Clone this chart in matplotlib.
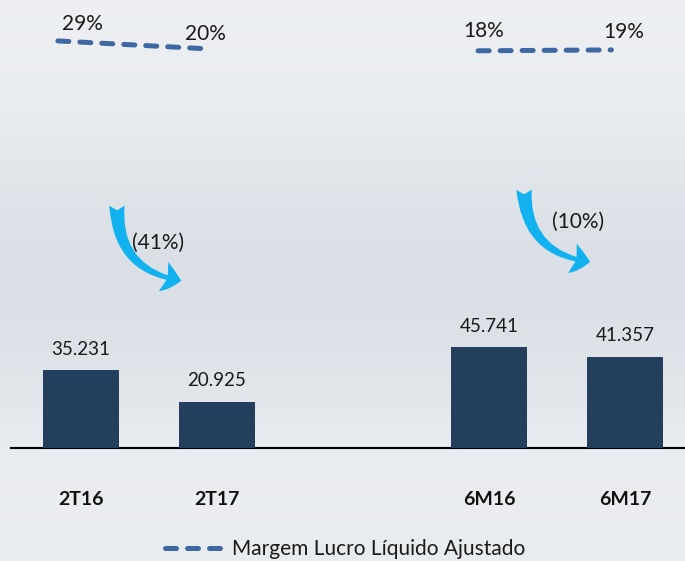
import numpy as np
import matplotlib
matplotlib.use("Agg")
import matplotlib.pyplot as plt
from matplotlib.patches import FancyArrowPatch
from matplotlib.lines import Line2D
import matplotlib.colors as mcolors

# ---- data ----
categories = ["2T16", "2T17", "6M16", "6M17"]
values = [35.231, 20.925, 45.741, 41.357]
value_labels = ["35.231", "20.925", "45.741", "41.357"]
margins = [29, 20, 18, 19]
margin_labels = ["29%", "20%", "18%", "19%"]
changes = ["(41%)", "(10%)"]
legend_label = "Margem Lucro Líquido Ajustado"

# ---- style ----
positions = [0, 1, 3, 4]
BAR_COLOR = "#243f5e"
LINE_COLOR = "#3e68a3"
ARROW_COLOR = "#12b1ef"
FONT = ["Lato", "DejaVu Sans"]
plt.rcParams["font.family"] = FONT

W, H, DPI = 6.85, 5.61, 100
fig = plt.figure(figsize=(W, H), dpi=DPI)

# background gradient (approximating the faded photo)
bg = fig.add_axes([0, 0, 1, 1], zorder=-10)
t = np.linspace(0, 1, 300)
c_top = np.array(mcolors.to_rgb("#eef0f3"))
c_mid = np.array(mcolors.to_rgb("#dae0e6"))
c_bot = np.array(mcolors.to_rgb("#e9ecef"))
w_mid = np.exp(-((t - 0.5) / 0.27) ** 2)
w_bot = np.clip((t - 0.78) / 0.22, 0, 1)
col = (c_top[None, :] * (1 - w_mid[:, None]) + c_mid[None, :] * w_mid[:, None])
col = col * (1 - w_bot[:, None]) + c_bot[None, :] * w_bot[:, None]
img = np.repeat(col[:, None, :], 10, axis=1)
bg.imshow(img, aspect="auto", extent=[0, 1, 0, 1], origin="upper")
bg.set_axis_off()

# main axes: pixel mapping
px_w, px_h = W * DPI, H * DPI
left_px, base_px = 11, 448
ax = fig.add_axes([left_px / px_w, (px_h - base_px) / px_h,
                   1 - left_px / px_w, base_px / px_h])
ax.patch.set_alpha(0)
x0_px, step_px = 81, 136
ax.set_xlim((left_px - x0_px) / step_px, (px_w - x0_px) / step_px)
px_per_unit = 2.21
ax.set_ylim(0, base_px / px_per_unit)

ax.bar(positions, values, width=0.566, color=BAR_COLOR, zorder=3)
for s in ["top", "right", "left"]:
    ax.spines[s].set_visible(False)
ax.spines["bottom"].set_linewidth(1.5)
ax.spines["bottom"].set_color("black")
ax.set_yticks([])
ax.set_xticks([])

for p, v, lab in zip(positions, values, value_labels):
    ax.annotate(lab, (p, v), xytext=(0, 15), textcoords="offset points",
                ha="center", va="center", fontsize=13.5, color="#1a1a1a")
for p, c in zip(positions, categories):
    ax.annotate(c, (p, 0), xytext=(0, -37), textcoords="offset points",
                ha="center", va="center", fontsize=14, fontweight="bold",
                color="#111111")

# secondary axis for margins
ax2 = ax.twinx()
ax2.set_axis_off()
zero_px, px_per_pct = 67, 0.9
ax2.set_ylim((zero_px - base_px) / px_per_pct, zero_px / px_per_pct)
line_offsets = [(-0.17, -0.05), (-0.08, -0.10)]
dash_kw = dict(color=LINE_COLOR, lw=3.6, dashes=(2.2, 2.2),
               dash_capstyle="round", solid_capstyle="round")
for k in range(2):
    i, j = 2 * k, 2 * k + 1
    xs = [positions[i] + line_offsets[k][0], positions[j] + line_offsets[k][1]]
    ax2.plot(xs, [margins[i], margins[j]], **dash_kw)
label_dx = [1, -12, -5, -1]
label_dy = [12, 11, 14.5, 13]
for p, m, lab, dx, dy in zip(positions, margins, margin_labels, label_dx, label_dy):
    ax2.annotate(lab, (p, m), xytext=(dx * 0.72, dy), textcoords="offset points",
                 ha="center", va="center", fontsize=15, color="#1a1a1a")

# curved arrows with change labels
def to_data_y(pix):
    return (base_px - pix) / px_per_unit

def to_data_x(pix):
    return (pix - x0_px) / step_px

arrows = [((117, 203), (184, 281), (158, 243)),
          ((524, 187), (593, 262), (578, 222))]
for (s, e, lp), lab in zip(arrows, changes):
    arr = FancyArrowPatch((to_data_x(s[0]), to_data_y(s[1])),
                          (to_data_x(e[0]), to_data_y(e[1])),
                          connectionstyle="arc3,rad=0.45",
                          arrowstyle="fancy,head_length=1.3,head_width=2.2,tail_width=1.1",
                          mutation_scale=10, color=ARROW_COLOR, lw=0, zorder=4)
    ax.add_patch(arr)
    ax.text(to_data_x(lp[0]), to_data_y(lp[1]), lab, ha="center", va="center",
            fontsize=15, color="#1a1a1a")

# legend
handle = Line2D([0], [0], **dash_kw)
fig.legend([handle], [legend_label], loc="center",
           bbox_to_anchor=(345 / px_w, 1 - 549 / px_h), frameon=False,
           fontsize=15, handlelength=2.7, handletextpad=0.55,
           labelcolor="#1a1a1a")

fig.savefig("out.png", dpi=DPI)
